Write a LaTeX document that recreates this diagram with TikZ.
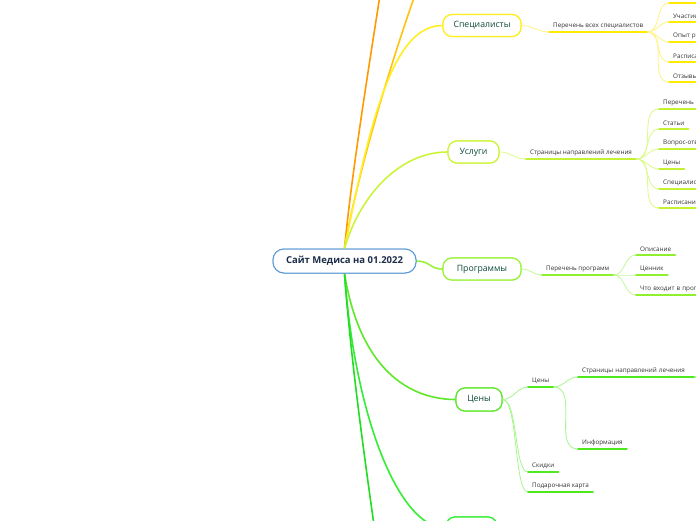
\documentclass[tikz,border=0pt]{standalone}
\usepackage{fontspec}
\setmainfont{Open Sans}
\definecolor{rootb}{HTML}{5B9BD5}
\definecolor{roott}{HTML}{1C2E4A}
\definecolor{ntext}{HTML}{0D4A3A}
\definecolor{ltext}{HTML}{333333}
\definecolor{cOr}{HTML}{FF9A00}
\definecolor{cYo}{HTML}{FFC20E}
\definecolor{cY}{HTML}{FFEE22}
\definecolor{cYp}{HTML}{FFF383}
\definecolor{cYu}{HTML}{FFEA00}
\definecolor{cYG}{HTML}{CCF53A}
\definecolor{cYGp}{HTML}{DDF98A}
\definecolor{cYGu}{HTML}{C2F232}
\definecolor{cLG}{HTML}{9AF23A}
\definecolor{cLGp}{HTML}{C4F79A}
\definecolor{cLGu}{HTML}{8FF030}
\definecolor{cG}{HTML}{5FE82A}
\definecolor{cGp}{HTML}{A8F590}
\definecolor{cGu}{HTML}{4FEA1E}
\definecolor{cBG}{HTML}{33EE33}
\definecolor{cDG}{HTML}{22DD22}
\tikzset{
  rootnode/.style={draw=rootb, line width=1pt, fill=white, rounded corners=11pt,
    minimum width=143, minimum height=24, text=roott, font=\fontsize{9.5}{11}\selectfont\bfseries},
  mainnode/.style={draw=#1, line width=1.2pt, fill=white, rounded corners=9pt,
    minimum height=22, text=ntext, font=\fontsize{8.7}{10}\selectfont},
  leaf/.style={anchor=south west, inner xsep=4, inner ysep=3, text=ltext,
    font=\fontsize{6.3}{7}\selectfont},
  cut/.style={text width=95, align=left},
  uline/.style={line width=1.6pt, line cap=round},
  sub/.style={line width=0.8pt},
  br/.style={out=0, in=180},
  trunk/.style={line width=1.6pt},
}
\newcommand{\uline}[2]{\draw[uline,#1] (#2.south west) -- (#2.south east);}
\begin{document}
\begin{tikzpicture}[x=1pt,y=-1pt]
\useasboundingbox (0,0) rectangle (696,520);
\clip (0,0) rectangle (696,520);
\fill[white] (0,0) rectangle (696,520);

% off-screen coordinates
\coordinate (offA) at (380,-5);
\coordinate (offB) at (415,-5);
\coordinate (offC) at (374,525);

% main nodes (named, used as connector ends)
\node[rootnode] (root) at (344.5,261) {Сайт Медиса на 01.2022};
\node[mainnode=cY, minimum width=78] (sp) at (482,25.5) {Специалисты};
\node[mainnode=cYG, minimum width=51] (sv) at (473.5,152) {Услуги};
\node[mainnode=cLG, minimum width=78] (pr) at (482,269) {Программы};
\node[mainnode=cG, minimum width=46, minimum height=23] (pc) at (479,399.5) {Цены};
\node[mainnode=cBG, minimum width=51] (bt) at (471.5,528) {};

% root branches
\draw[trunk,cOr] (root.north) .. controls (352,170) and (370,60) .. (offA);
\draw[trunk,cYo] (root.north) .. controls (358,170) and (392,60) .. (offB);
\draw[trunk,cY] (root.north) .. controls (372,110) and (395,25.5) .. (sp.west);
\draw[trunk,cYG] (root.north) .. controls (360,195) and (400,152) .. (sv.west);
\draw[trunk,cLG] (root.east) .. controls (430,261) and (430,269) .. (pr.west);
\draw[trunk,cG] (root.south) .. controls (360,370) and (410,399.5) .. (pc.west);
\draw[trunk,cBG] (root.south) .. controls (355,420) and (400,528) .. (bt.west);
\draw[trunk,cDG] (root.south) .. controls (350,350) and (362,440) .. (offC);

% redraw nodes on top of the branches
\node[rootnode] at (344.5,261) {Сайт Медиса на 01.2022};
\node[mainnode=cY, minimum width=78] at (482,25.5) {Специалисты};
\node[mainnode=cYG, minimum width=51] at (473.5,152) {Услуги};
\node[mainnode=cLG, minimum width=78] at (482,269) {Программы};
\node[mainnode=cG, minimum width=46, minimum height=23] at (479,399.5) {Цены};
\node[mainnode=cBG, minimum width=51] at (471.5,528) {};

% ---- Специалисты
\node[leaf] (sp1) at (549,32) {Перечень всех специалистов};
\draw[sub,cYp] (sp.east) to[br] (sp1.south west);
\uline{cYu}{sp1}
\node[leaf, minimum width=40, minimum height=8] (sp2) at (669,3) {};
\node[leaf,cut] (sp3) at (669,22) {Участие};
\node[leaf,cut] (sp4) at (669,42) {Опыт ра};
\node[leaf,cut] (sp5) at (669,62) {Расписа};
\node[leaf,cut] (sp6) at (669,82) {Отзывы};
\foreach \n in {sp2,sp3,sp4,sp5,sp6}{
  \draw[sub,cYp] (sp1.south east) to[br] (\n.south west);
  \uline{cYu}{\n}
}

% ---- Услуги
\node[leaf] (sv1) at (526,159) {Страницы направлений лечения};
\draw[sub,cYGp] (sv.east) to[br] (sv1.south west);
\uline{cYGu}{sv1}
\node[leaf,cut] (sv2) at (659,109) {Перечень п};
\node[leaf] (sv3) at (659,129) {Статьи};
\node[leaf,cut] (sv4) at (659,149) {Вопрос-отв};
\node[leaf] (sv5) at (659,169) {Цены};
\node[leaf,cut] (sv6) at (659,189) {Специалис};
\node[leaf,cut] (sv7) at (659,208) {Расписание};
\foreach \n in {sv2,sv3,sv4,sv5,sv6,sv7}{
  \draw[sub,cYGp] (sv1.south east) to[br] (\n.south west);
  \uline{cYGu}{\n}
}

% ---- Программы
\node[leaf] (pr1) at (542,275) {Перечень программ};
\draw[sub,cLGp] (pr.east) to[br] (pr1.south west);
\uline{cLGu}{pr1}
\node[leaf] (pr2) at (636,255) {Описание};
\node[leaf] (pr3) at (636,275) {Ценник};
\node[leaf,cut] (pr4) at (636,295) {Что входит в програ};
\foreach \n in {pr2,pr3,pr4}{
  \draw[sub,cLGp] (pr1.south east) to[br] (\n.south west);
  \uline{cLGu}{\n}
}

% ---- Цены
\node[leaf] (pc1) at (528,387) {Цены};
\draw[sub,cGp] (pc.east) to[br] (pc1.south west);
\uline{cGu}{pc1}
\node[leaf, text width=108, align=left] (pc2) at (578,377) {Страницы направлений лечения};
\node[leaf] (pc3) at (578,449) {Информация};
\foreach \n in {pc2,pc3}{
  \draw[sub,cGp] (pc1.south east) to[br] (\n.south west);
  \uline{cGu}{\n}
}
\coordinate (s1) at (706,360);
\coordinate (s2) at (706,370);
\coordinate (s3) at (706,384);
\coordinate (s4) at (706,394);
\foreach \c in {s1,s2,s3,s4}{
  \draw[sub,cGp] (pc2.south east) to[br] (\c);
}
\node[leaf] (pc4) at (528,472) {Скидки};
\node[leaf] (pc5) at (528,492) {Подарочная карта};
\draw[sub,cGp] (pc.east) .. controls (518,399.5) and (514,472) .. (pc4.south west);
\draw[sub,cGp] (pc.east) .. controls (518,399.5) and (514,492) .. (pc5.south west);
\uline{cGu}{pc4}
\uline{cGu}{pc5}
\end{tikzpicture}
\end{document}
